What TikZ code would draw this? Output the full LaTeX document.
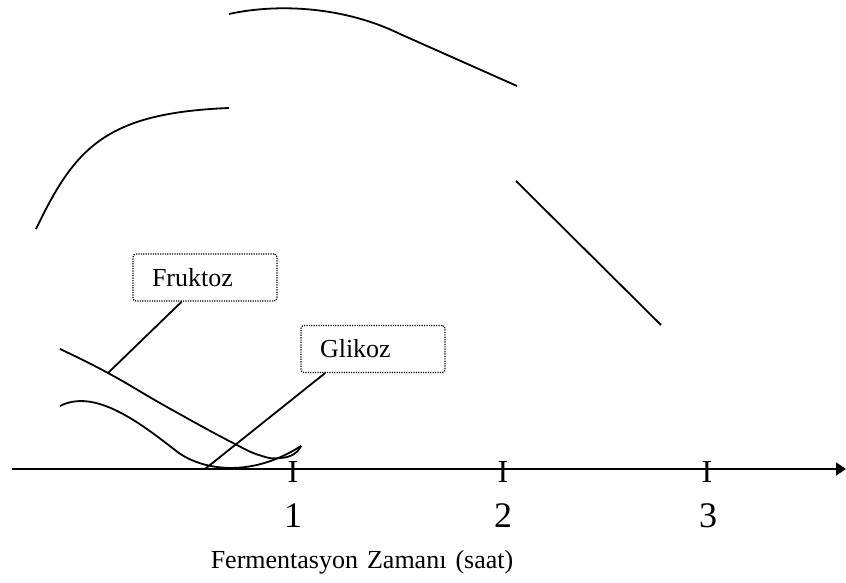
\documentclass[tikz,border=0pt]{standalone}
\usepackage{fontspec}
\setmainfont{Liberation Serif}
\usetikzlibrary{arrows.meta,calc}
\tikzset{
  curve/.style={line width=0.9pt},
  labelbox/.style={draw, line width=0.6pt, dash pattern=on 0.6pt off 0.6pt,
    rounded corners=1.5pt, text width=53pt, inner xsep=9.5pt,
    minimum height=23.5pt, align=left, font=\fontsize{13}{15}\selectfont},
  tickmark/.style={font=\fontsize{16}{18}\selectfont, inner sep=0pt},
  ticklabel/.style={font=\fontsize{18}{20}\selectfont, inner sep=0pt}
}
\begin{document}
\begin{tikzpicture}[x=0.5pt,y=0.5pt]
      \useasboundingbox (0,0) rectangle (846,583);
      \coordinate (origin) at (12,114);
      \coordinate (axisend) at (846,114);
      \draw [curve,-{Triangle[length=5pt,width=6.5pt]}] (origin) -- (axisend);
      \node [tickmark] (tick1) at (293,110.5) {I};
      \node [tickmark] (tick2) at (503,110.5) {I};
      \node [tickmark] (tick3) at (707,110.5) {I};
      \node [ticklabel] (lab1) at (293,67) {1};
      \node [ticklabel] (lab2) at (503,67) {2};
      \node [ticklabel] (lab3) at (708,67) {3};
      \node [anchor=base, font=\fontsize{13}{15}\selectfont] (xlabel) at (362,14)
        {Fermentasyon\hspace{4.5pt}Zaman\i\hspace{4.5pt}(saat)};
      \draw [curve] (36,354) .. controls (75,435) and (105,470) .. (229,475);
      \draw [curve] (229,569) .. controls (279,580) and (345,576) .. (400,549) -- (517,497);
      \draw [curve] (516,402) -- (661,258);
      \draw [curve] plot [smooth, tension=0.8] coordinates
        {(60,234) (108,210) (167,176) (233,140) (262,127) (280,125) (294,129) (301,137)};
      \draw [curve] (60,177) .. controls (95,195) and (140,160) .. (175,133)
        .. controls (198,114) and (248,103) .. (301,137);
      \node [labelbox] (fruktoz) at (205,305.5) {Fruktoz};
      \node [labelbox] (glikoz) at (373,234) {Glikoz};
      \coordinate (fr-pt) at (108,210);
      \coordinate (gl-pt) at (205,114);
      \draw [curve] ($(fruktoz.south west)!0.34!(fruktoz.south east)$) -- (fr-pt);
      \draw [curve] ($(glikoz.south west)!0.17!(glikoz.south east)$) -- (gl-pt);
    \end{tikzpicture}
\end{document}
